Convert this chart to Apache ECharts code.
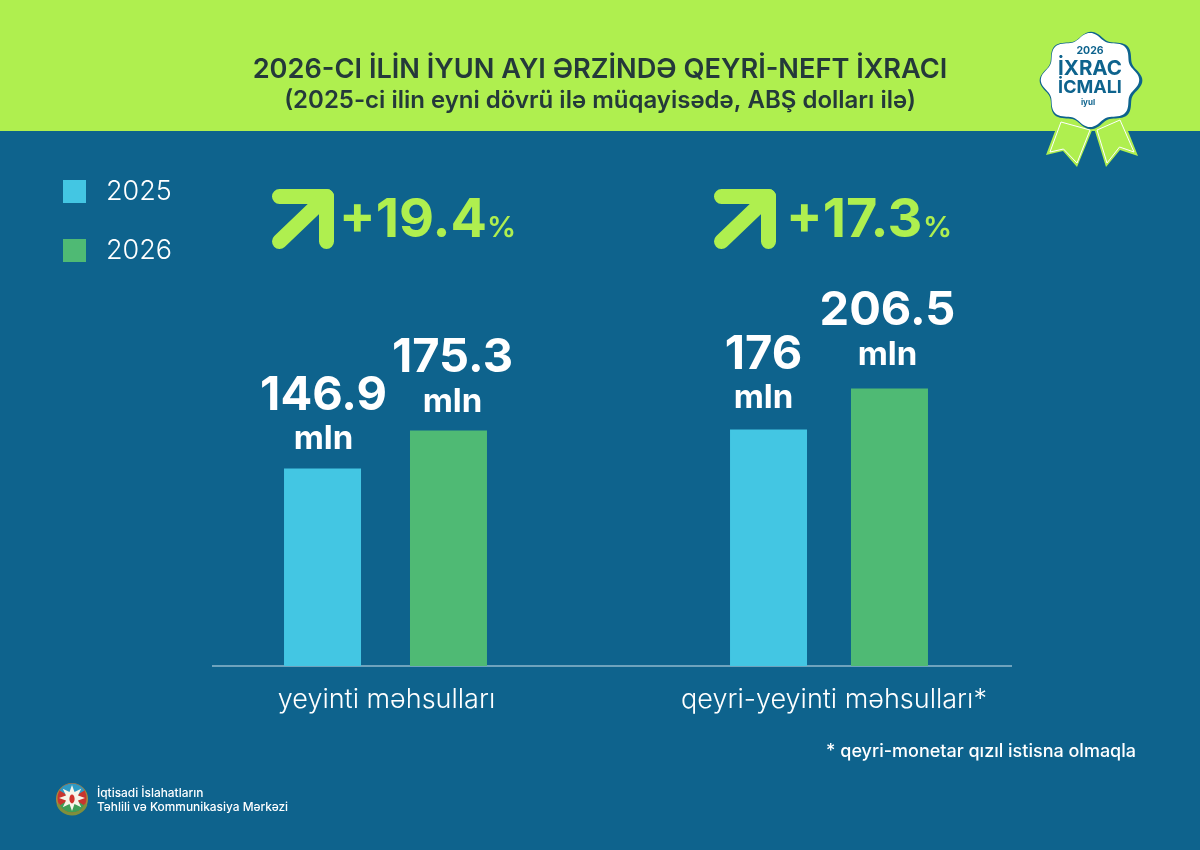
<!DOCTYPE html>
<html><head><meta charset="utf-8">
<style>html,body{margin:0;padding:0;background:#0E638D}#c{width:1200px;height:850px}</style>
<script src="https://cdn.jsdelivr.net/npm/echarts@6/dist/echarts.min.js"></script>
</head><body><div id="c"></div>
<script>
const years = ["2025", "2026"];
const foodCategory = ["yeyinti məhsulları"];
const nonFoodCategory = ["qeyri-yeyinti məhsulları*"];
const food2025 = [146.9];
const food2026 = [175.3];
const nonFood2025 = [176];
const nonFood2026 = [206.5];
const growthLabels = ["+19.4", "+17.3"];
const titleText = "2026-CI İLİN İYUN AYI ƏRZİNDƏ QEYRİ-NEFT İXRACI";
const subtitleText = "(2025-ci ilin eyni dövrü ilə müqayisədə, ABŞ dolları ilə)";
const footnote = "* qeyri-monetar qızıl istisna olmaqla";
const orgLines = ["İqtisadi İslahatların", "Təhlili və Kommunikasiya Mərkəzi"];

const BLUE = "#0E638D", LIME = "#AFEF4F", C25 = "#43C6E3", C26 = "#4FBA74", FONT = "Inter";
const chart = echarts.init(document.getElementById("c"));

function scallop(cx, cy, rx, ry, amp) {
  const pts = [];
  for (let i = 0; i < 160; i++) {
    const t = i / 160 * Math.PI * 2;
    const k = 1 + amp * Math.cos(8 * t);
    pts.push([cx + rx * k * Math.sin(t), cy - ry * k * Math.cos(t)]);
  }
  return pts;
}
function star(cx, cy, ro, ri, n) {
  const pts = [];
  for (let i = 0; i < n * 2; i++) {
    const t = i / (n * 2) * Math.PI * 2, r = i % 2 ? ri : ro;
    pts.push([cx + r * Math.sin(t), cy - r * Math.cos(t)]);
  }
  return pts;
}
function arrow(dx) {
  const s = { stroke: LIME, lineWidth: 15, lineCap: "round", lineJoin: "round", fill: null };
  return [
    { type: "polyline", shape: { points: [[279.5 + dx, 196.5], [326.5 + dx, 196.5], [326.5 + dx, 241.5]] }, style: s },
    { type: "line", shape: { x1: 279.5 + dx, y1: 241.5, x2: 326.5 + dx, y2: 196.5 }, style: s }
  ];
}
function txt(x, y, text, font, fill, align) {
  return { type: "text", x, y, style: { text, font, fill, align: align || "left", verticalAlign: "middle" } };
}
function valueLabel(p) { return "{v|" + p.value + "}\n{u|mln}"; }
function labelCfg(offset) {
  return {
    show: true, position: "top", distance: 12, color: "#fff", formatter: valueLabel, offset,
    rich: {
      v: { fontFamily: FONT, fontWeight: 700, fontSize: 47, color: "#fff", lineHeight: 50, align: "center" },
      u: { fontFamily: FONT, fontWeight: 700, fontSize: 33, color: "#fff", lineHeight: 38, align: "center" }
    }
  };
}
function bar(name, data, axis, color, gap, offset) {
  return {
    type: "bar", name, data, xAxisIndex: axis, yAxisIndex: axis,
    barWidth: 77, barGap: gap, itemStyle: { color }, label: labelCfg(offset), silent: true
  };
}
function xAx(gridIndex, data, pad) {
  return {
    type: "category", gridIndex, data,
    axisLine: { show: false }, axisTick: { show: false },
    axisLabel: { color: "#fff", fontFamily: FONT, fontSize: 27, fontWeight: 300, margin: 20, padding: [0, 0, 0, pad] }
  };
}
function yAx(gridIndex) {
  return { type: "value", gridIndex, min: 0, max: 250, show: false, splitLine: { show: false } };
}

chart.setOption({
  animation: false,
  backgroundColor: BLUE,
  textStyle: { fontFamily: FONT },
  title: {
    text: titleText, subtext: subtitleText, left: 595, top: 51, textAlign: "center", itemGap: 6,
    textStyle: { fontFamily: FONT, fontSize: 27.2, fontWeight: 600, color: "#24393A" },
    subtextStyle: { fontFamily: FONT, fontSize: 24, fontWeight: 600, color: "#24393A" }
  },
  legend: {
    left: 63, top: 178, padding: 0, orient: "vertical", itemWidth: 23, itemHeight: 23, itemGap: 32,
    selectedMode: false, icon: "rect", data: years,
    textStyle: { color: "#fff", fontFamily: FONT, fontSize: 27, fontWeight: 300, padding: [0, 0, 0, 15] }
  },
  grid: [
    { left: 212, width: 347, top: 330, height: 336 },
    { left: 559, width: 540, top: 330, height: 336 }
  ],
  xAxis: [xAx(0, foodCategory, 2), xAx(1, nonFoodCategory, 10)],
  yAxis: [yAx(0), yAx(1)],
  series: [
    bar(years[0], food2025, 0, C25, "63.6%", [1, 2]),
    bar(years[1], food2026, 0, C26, "63.6%", [4, 2.5]),
    bar(years[0], nonFood2025, 1, C25, "57.1%", [-5, 0]),
    bar(years[1], nonFood2026, 1, C26, "57.1%", [-2, -2.5])
  ],
  graphic: [
    { type: "rect", z: 0, shape: { x: 0, y: 0, width: 1200, height: 131 }, style: { fill: LIME } },
    { type: "line", shape: { x1: 212, y1: 666, x2: 1012, y2: 666 }, style: { stroke: "#8FB9CE", lineWidth: 1.5 } },
    ...arrow(0), ...arrow(442),
    txt(339, 221, growthLabels[0], "700 54px " + FONT, LIME),
    txt(487, 228, "%", "600 29px " + FONT, LIME),
    txt(786, 221, growthLabels[1], "700 54px " + FONT, LIME),
    txt(923, 228, "%", "600 29px " + FONT, LIME),
    txt(1136, 751.5, footnote, "500 18px " + FONT, "#fff", "right"),
    // badge
    { type: "polygon", shape: { points: [[1060, 118], [1046, 155], [1063, 151], [1077, 167], [1093, 128]] }, style: { fill: LIME } },
    { type: "polygon", shape: { points: [[1094, 128], [1106, 167], [1120, 150], [1138, 156], [1122, 116]] }, style: { fill: LIME } },
    { type: "polygon", shape: { points: [[1061, 122], [1050, 152], [1063.5, 149], [1077, 163], [1090, 130]] }, style: { fill: "none", stroke: "#fff", lineWidth: 1 } },
    { type: "polygon", shape: { points: [[1097, 130], [1107, 163], [1119.5, 147], [1134, 152], [1120, 120]] }, style: { fill: "none", stroke: "#fff", lineWidth: 1 } },
    { type: "polygon", shape: { points: scallop(1091, 80.5, 48, 45.5, 0.07) }, style: { fill: BLUE } },
    { type: "polygon", shape: { points: scallop(1090, 80, 46, 44, 0.07) }, style: { fill: "#fff" } },
    txt(1090, 51, "2026", "700 10.5px " + FONT, BLUE, "center"),
    txt(1090, 69, "İXRAC", "700 20.5px " + FONT, BLUE, "center"),
    txt(1090, 88, "İCMALI", "700 18px " + FONT, BLUE, "center"),
    txt(1088, 103, "iyul", "700 8px " + FONT, BLUE, "center"),
    // emblem
    { type: "circle", shape: { cx: 72, cy: 799, r: 16 }, style: { fill: "#A58A3C" } },
    { type: "circle", shape: { cx: 72, cy: 798, r: 14.5 }, style: { fill: "#C8352E" } },
    { type: "sector", shape: { cx: 72, cy: 798, r: 14.5, startAngle: -2.6, endAngle: -0.54 }, style: { fill: "#2E9AC4" } },
    { type: "sector", shape: { cx: 72, cy: 798, r: 14.5, startAngle: 0.54, endAngle: 2.6 }, style: { fill: "#3E9E57" } },
    { type: "polygon", shape: { points: star(72, 798, 13, 6.5, 8) }, style: { fill: "#F6F4E8" } },
    { type: "ellipse", shape: { cx: 72, cy: 799, rx: 2.6, ry: 4.4 }, style: { fill: "#D0322B" } },
    { type: "arc", shape: { cx: 72, cy: 799, r: 15, startAngle: 0.35, endAngle: 2.8 }, style: { stroke: "#7F8F3C", lineWidth: 3, fill: null } },
    txt(97, 793, orgLines[0], "500 11.9px " + FONT, "#fff"),
    txt(97, 807, orgLines[1], "500 11.9px " + FONT, "#fff")
  ]
});
</script></body></html>
